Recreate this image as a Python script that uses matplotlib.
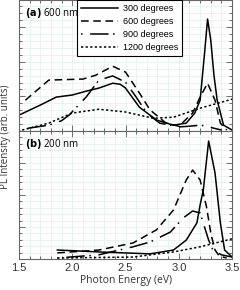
import numpy as np
import matplotlib
matplotlib.use("Agg")
import matplotlib.pyplot as plt
from matplotlib.ticker import MultipleLocator, NullFormatter

# (a) 600 nm excitation
a300_e = [1.5, 1.7, 1.85, 2.0, 2.13, 2.25, 2.38, 2.45, 2.5, 2.63, 2.79, 2.95, 3.07, 3.15, 3.2, 3.24, 3.27, 3.30, 3.33, 3.36, 3.42, 3.5]
a300_i = [0.46, 0.75, 0.98, 1.04, 1.15, 1.24, 1.38, 1.35, 1.24, 0.69, 0.32, 0.17, 0.23, 0.52, 0.89, 2.19, 3.23, 2.62, 1.61, 0.89, 0.17, 0.03]
a600_e = [1.56, 1.78, 2.1, 2.22, 2.38, 2.5, 2.63, 2.73, 2.88, 3.0, 3.13, 3.2, 3.27, 3.34, 3.39, 3.45]
a600_i = [0.89, 1.47, 1.50, 1.61, 1.87, 1.70, 1.10, 0.61, 0.23, 0.14, 0.52, 0.98, 1.38, 0.89, 0.23, 0.03]
a900_e = [1.5, 1.6, 1.78, 1.9, 1.97, 2.13, 2.25, 2.38, 2.5, 2.6, 2.7, 2.82, 3.0, 3.1, 3.2, 3.27, 3.32, 3.4]
a900_i = [0.0, 0.09, 0.17, 0.3, 0.46, 0.98, 1.47, 1.59, 1.41, 0.98, 0.52, 0.23, 0.12, 0.14, 0.17, 0.14, 0.09, 0.03]
a1200_e = [1.53, 1.78, 2.0, 2.25, 2.5, 2.76, 2.95, 3.2, 3.5]
a1200_i = [0.03, 0.23, 0.52, 0.63, 0.55, 0.37, 0.40, 0.66, 0.92]

# (b) 200 nm excitation
b300_e = [1.86, 2.25, 2.73, 2.95, 3.07, 3.17, 3.2, 3.23, 3.28, 3.34, 3.39, 3.43, 3.5]
b300_i = [0.28, 0.22, 0.16, 0.28, 0.59, 1.13, 1.69, 2.16, 3.69, 2.69, 1.13, 0.28, 0.06]
b600_e = [1.86, 2.25, 2.57, 2.79, 2.95, 3.07, 3.13, 3.2, 3.26, 3.3, 3.34, 3.38, 3.45]
b600_i = [0.19, 0.28, 0.5, 0.91, 1.53, 2.47, 2.78, 2.47, 1.63, 0.81, 0.28, 0.09, 0.03]
b900_e = [1.86, 2.25, 2.57, 2.73, 2.92, 3.04, 3.13, 3.2, 3.28, 3.32, 3.4, 3.5]
b900_i = [0.03, 0.13, 0.38, 0.53, 0.84, 1.28, 1.5, 1.44, 0.59, 0.28, 0.13, 0.06]
b1200_e = [1.86, 2.57, 2.95, 3.2, 3.5]
b1200_i = [0.03, 0.06, 0.22, 0.38, 0.63]

labels = ['300 degrees', '600 degrees', '900 degrees', '1200 degrees']
styles = ['-', (0, (5, 3)), (0, (1, 5, 12, 3)), (0, (1.5, 1.5))]

fig = plt.figure(figsize=(2.4, 2.9), dpi=100)
ax1 = fig.add_axes([0.079, 0.548, 0.888, 0.452])
ax2 = fig.add_axes([0.079, 0.107, 0.888, 0.441])

grid_col = '#dff0ea'
for ax in (ax1, ax2):
    ax.set_xlim(1.5, 3.5)
    ax.xaxis.set_major_locator(MultipleLocator(0.5))
    ax.xaxis.set_minor_locator(MultipleLocator(0.1))
    ax.yaxis.set_major_locator(MultipleLocator(1))
    ax.yaxis.set_minor_locator(MultipleLocator(0.2))
    ax.yaxis.set_major_formatter(NullFormatter())
    ax.tick_params(which='both', direction='in', top=True, right=True, width=0.6, colors='#555555')
    ax.tick_params(which='major', length=4)
    ax.tick_params(which='minor', length=2)
    ax.grid(which='both', color=grid_col, lw=0.5)
    ax.set_axisbelow(True)
    for s in ax.spines.values():
        s.set_color('#666666')
        s.set_linewidth(0.8)

ax1.set_ylim(0, 3.78)
ax2.set_ylim(0, 4.0)
ax1.xaxis.set_major_formatter(NullFormatter())

data_a = [(a300_e, a300_i), (a600_e, a600_i), (a900_e, a900_i), (a1200_e, a1200_i)]
data_b = [(b300_e, b300_i), (b600_e, b600_i), (b900_e, b900_i), (b1200_e, b1200_i)]
for (e, i), ls, lab in zip(data_a, styles, labels):
    ax1.plot(e, i, color='black', ls=ls, lw=1.1, label=lab)
for (e, i), ls in zip(data_b, styles):
    ax2.plot(e, i, color='black', ls=ls, lw=1.1)

leg = ax1.legend(loc='upper left', bbox_to_anchor=(0.27, 1.0), fancybox=False,
                 edgecolor='black', framealpha=1, handlelength=4.2, labelspacing=0.45,
                 borderpad=0.45, handletextpad=0.5, borderaxespad=0,
                 prop={'family': 'Liberation Sans', 'size': 6.5})
leg.get_frame().set_linewidth(0.8)

ax1.text(0.03, 0.9, r'$\bf{(a)}$ 600 nm', transform=ax1.transAxes, fontsize=7,
         family='Open Sans', va='center')
ax2.text(0.03, 0.9, r'$\bf{(b)}$ 200 nm', transform=ax2.transAxes, fontsize=7,
         family='Open Sans', va='center')

for lbl in ax2.get_xticklabels():
    lbl.set_family('Liberation Sans')
    lbl.set_fontsize(8)
ax2.tick_params(axis='x', which='major', pad=3, labelcolor='#333333')
ax2.set_xlabel('Photon Energy (eV)', family='Open Sans', fontsize=7.5, color='#333333', labelpad=1)
fig.text(0.022, 0.53, 'PL Intensity (arb. units)', rotation=90, va='center', ha='center',
         family='Open Sans', fontsize=7, color='#333333')

fig.savefig('out.png', dpi=100)
